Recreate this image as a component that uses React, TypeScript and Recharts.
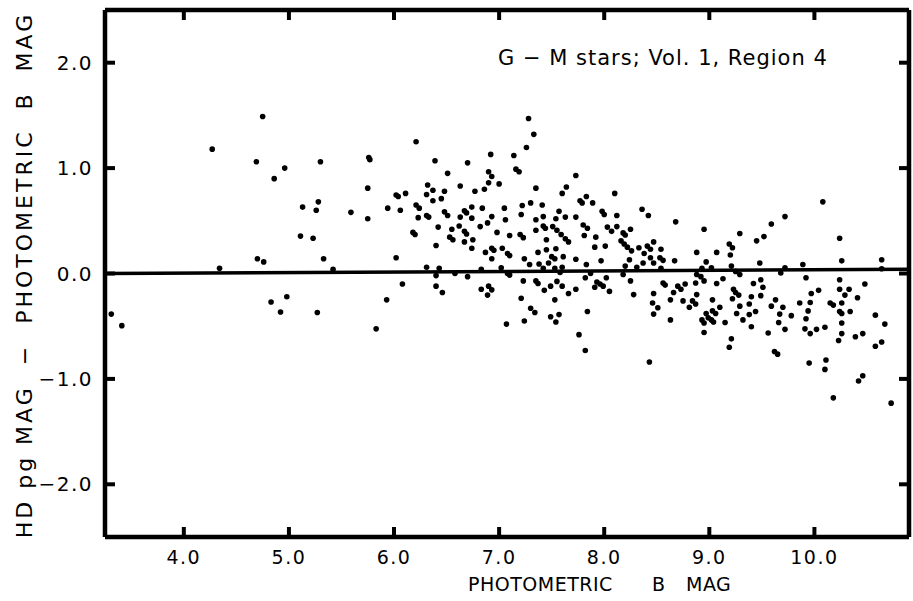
import { ScatterChart, Scatter, XAxis, YAxis, ReferenceLine } from 'recharts';

// photometric B magnitude of each star
const photometricB = [
  3.31, 3.41, 4.27, 4.34, 4.69, 4.75, 4.70, 4.76, 4.83, 4.86, 4.96, 4.98, 4.92, 5.13, 5.11, 5.23, 5.26, 5.28, 5.30, 5.27, 5.33, 5.42,
  5.76, 5.77, 6.21, 5.75, 5.59, 5.75, 5.94, 6.02, 6.04, 6.11, 6.06, 6.02, 6.39, 6.70, 6.51, 6.92, 6.90, 6.93, 6.90, 7.00, 6.86, 6.77,
  6.63, 6.32, 6.37, 6.31, 6.48, 6.45, 6.37, 6.21, 6.24, 6.23, 6.31, 6.33, 6.48, 6.51, 6.42, 6.18, 6.20, 6.67, 6.69, 6.74, 6.63, 6.74,
  6.84, 6.93, 6.89, 6.82, 7.05, 7.06, 6.98, 6.62, 6.55, 6.67, 6.69, 6.53, 6.56, 6.75, 6.67, 6.74, 6.40, 6.87, 6.93, 6.95, 7.03, 6.93,
  7.08, 7.10, 7.10,
  6.31, 6.43, 6.40, 6.58, 6.70, 6.83, 7.02, 7.08, 7.10, 6.08, 6.40, 6.46, 6.83, 6.90, 6.93, 6.89, 5.93, 5.83, 7.07,
  7.28, 7.33, 7.26, 7.14, 7.16, 7.19, 7.73, 7.35, 7.64, 7.60, 8.10, 7.83, 7.77, 7.79, 7.89, 7.30, 7.22, 7.41, 7.21, 7.57, 7.42, 7.35,
  7.54, 7.63, 7.73, 7.98, 8.00, 8.12, 8.36, 8.42, 8.68, 8.95, 7.51, 7.55, 7.59, 7.63, 7.66, 7.35, 7.42, 7.44, 7.20, 7.23, 7.45, 7.80,
  7.84, 7.81, 7.92, 8.03, 8.07, 8.12, 8.18, 8.20, 8.25, 8.16, 8.19, 8.22, 8.26, 7.91, 8.01, 8.33, 8.41, 8.44, 8.47, 8.54, 8.38, 8.44,
  8.53, 8.56, 8.88, 7.24, 7.37, 7.45, 7.54, 7.50, 7.53, 7.61, 7.73, 7.97, 8.24, 8.67, 8.97,
  7.29, 7.38, 7.47, 7.53, 7.58, 7.60, 7.83, 8.47, 8.37, 7.42, 7.23, 7.35, 7.37, 7.43, 7.49, 7.55, 7.60, 7.66, 7.73, 7.82, 7.87, 7.91,
  7.93, 7.96, 7.99, 8.02, 8.05, 7.21, 7.30, 7.34, 7.53, 7.49, 7.57, 7.54, 7.24, 7.84, 7.76, 7.82, 8.20, 8.18, 8.31, 8.25, 8.28, 8.47,
  8.46, 8.51, 8.47, 8.43, 8.54, 8.56, 8.58, 8.63, 8.63, 8.66, 8.70, 8.73, 8.77, 8.75, 8.81, 8.84, 8.87, 8.88, 8.87, 8.92, 8.95, 8.88,
  8.93, 8.97, 8.93, 8.95, 8.95, 8.99,
  9.29, 9.19, 9.22, 9.07, 9.20, 9.02, 9.21, 9.25, 9.29, 9.48, 9.45, 9.52, 9.59, 9.72, 10.08, 10.24, 10.26, 10.64, 9.89, 9.72, 9.68,
  10.64, 9.13, 9.07, 9.23, 9.42, 9.49, 9.51, 9.92, 10.24, 10.24, 10.33, 10.48, 10.04,
  9.25, 9.28, 9.22, 9.03, 9.10, 9.03, 9.06, 9.02, 9.04, 9.15, 9.21, 9.19, 9.40, 9.49, 9.29, 9.38, 9.26, 9.38, 9.44, 9.32, 9.40, 9.56,
  9.59, 9.63, 9.70, 9.67, 9.78, 9.66, 9.72, 9.62, 9.65, 9.86, 9.97, 9.96, 9.94, 9.92, 9.91, 9.96, 10.02, 10.10, 9.95, 10.11, 10.10,
  10.18, 10.29, 10.41, 10.15, 10.18, 10.26, 10.24, 10.26, 10.34, 10.26, 10.26, 10.23, 10.39, 10.46, 10.58, 10.67, 10.58, 10.64, 10.42,
  10.46, 10.73,
];

// HD pg mag minus photometric B mag, same order
const hdMinusB = [
  -0.385, -0.495, 1.18, 0.05, 1.06, 1.49, 0.14, 0.11, -0.27, 0.90, 1.00, -0.22, -0.365, 0.63, 0.355, 0.335, 0.60, 0.68, 1.06, -0.37, 0.14, 0.04,
  1.10, 1.08, 1.25, 0.81, 0.58, 0.52, 0.62, 0.745, 0.73, 0.76, 0.60, 0.15, 1.07, 1.05, 0.95, 1.13, 0.965, 0.92, 0.86, 0.85, 0.80, 0.78,
  0.83, 0.84, 0.79, 0.75, 0.78, 0.71, 0.69, 0.65, 0.62, 0.53, 0.55, 0.535, 0.585, 0.55, 0.44, 0.39, 0.37, 0.595, 0.575, 0.63, 0.535, 0.525,
  0.62, 0.54, 0.48, 0.445, 0.62, 0.51, 0.39, 0.45, 0.42, 0.40, 0.375, 0.345, 0.32, 0.32, 0.30, 0.24, 0.265, 0.20, 0.24, 0.22, 0.24, 0.14,
  0.19, 0.17, 0.36,
  0.06, 0.05, -0.02, 0.0, -0.03, 0.04, 0.055, 0.0, -0.015, -0.10, -0.12, -0.18, -0.15, -0.12, -0.155, -0.205, -0.25, -0.525, -0.48,
  1.47, 1.32, 1.195, 1.12, 0.99, 0.965, 0.93, 0.81, 0.82, 0.76, 0.76, 0.73, 0.69, 0.67, 0.67, 0.67, 0.645, 0.65, 0.56, 0.59, 0.54, 0.51,
  0.52, 0.535, 0.535, 0.59, 0.56, 0.55, 0.61, 0.55, 0.49, 0.42, 0.445, 0.41, 0.37, 0.33, 0.30, 0.41, 0.45, 0.43, 0.37, 0.34, 0.32, 0.46,
  0.43, 0.36, 0.345, 0.44, 0.40, 0.445, 0.385, 0.365, 0.42, 0.31, 0.28, 0.25, 0.215, 0.25, 0.26, 0.245, 0.26, 0.23, 0.30, 0.23, 0.19, 0.15,
  0.15, 0.125, 0.20, 0.14, 0.20, 0.225, 0.235, 0.16, 0.14, 0.16, 0.135, 0.12, 0.13, 0.12, 0.11,
  0.085, 0.09, 0.10, 0.05, 0.01, 0.06, 0.085, 0.10, 0.10, 0.05, -0.07, -0.07, -0.095, -0.16, -0.12, -0.075, -0.12, -0.19, -0.15, -0.04, 0.0, -0.13,
  -0.08, -0.10, -0.12, -0.04, -0.17, -0.235, -0.33, -0.37, -0.25, -0.41, -0.39, -0.46, -0.45, -0.36, -0.58, -0.73, 0.07, -0.01, 0.06, -0.07, -0.20, -0.19,
  -0.28, -0.325, -0.385, -0.84, 0.05, -0.09, -0.11, -0.25, -0.44, -0.18, -0.12, -0.15, -0.10, -0.26, -0.32, -0.26, -0.29, -0.20, -0.09, -0.03, -0.07, -0.01,
  0.05, -0.38, -0.44, -0.47, -0.56, -0.42,
  0.38, 0.28, 0.245, 0.20, 0.175, 0.055, 0.07, 0.02, -0.01, 0.10, 0.31, 0.35, 0.47, 0.54, 0.68, 0.335, 0.12, 0.13, 0.085, 0.055, 0.005,
  0.045, -0.05, -0.095, -0.15, -0.095, -0.06, -0.13, -0.04, -0.06, -0.15, -0.15, -0.10, -0.16,
  -0.18, -0.205, -0.24, -0.25, -0.32, -0.355, -0.38, -0.44, -0.46, -0.465, -0.62, -0.70, -0.22, -0.21, -0.31, -0.29, -0.38, -0.39, -0.36, -0.44, -0.505, -0.565,
  -0.31, -0.25, -0.32, -0.385, -0.40, -0.465, -0.53, -0.74, -0.765, -0.28, -0.19, -0.275, -0.355, -0.43, -0.525, -0.57, -0.53, -0.51, -0.85, -0.82, -0.91,
  -1.18, -0.205, -0.23, -0.28, -0.30, -0.28, -0.36, -0.38, -0.36, -0.47, -0.57, -0.635, -0.60, -0.57, -0.395, -0.48, -0.69, -0.65, -1.02,
  -0.97, -1.23,
];

const xTicks = [4, 5, 6, 7, 8, 9, 10];
const yTicks = [-2, -1, 0, 1, 2];
const xDomain = [3.25, 10.9];
const yDomain = [-2.5, 2.5];
// zero line as drawn on the plate (slightly tilted)
const zeroLine = [
  { x: 3.25, y: 0 },
  { x: 10.9, y: 0.04 },
];

const points = photometricB.map((x, i) => ({ x, y: hdMinusB[i] }));

const FONT = '"DejaVu Sans", sans-serif';
const PLOT_TOP = 10;
const PLOT_BOTTOM = 537;
const PLOT_LEFT = 105;
const PLOT_RIGHT = 909;
const TICK = 10;

const fmt = (v: number) => (v < 0 ? '\u2212' + Math.abs(v).toFixed(1) : v.toFixed(1));

function BottomTick(props: any) {
  const c = props.payload.coordinate;
  return (
    <g>
      <line x1={c} x2={c} y1={PLOT_BOTTOM} y2={PLOT_BOTTOM - TICK} stroke="#000" strokeWidth={4} />
      <text x={c} y={564} textAnchor="middle" fontFamily={FONT} fontSize={19} letterSpacing={1.5} fill="#000">
        {fmt(props.payload.value)}
      </text>
    </g>
  );
}

function TopTick(props: any) {
  const c = props.payload.coordinate;
  return <line x1={c} x2={c} y1={PLOT_TOP} y2={PLOT_TOP + TICK} stroke="#000" strokeWidth={4} />;
}

function LeftTick(props: any) {
  const c = props.payload.coordinate;
  return (
    <g>
      <line x1={PLOT_LEFT} x2={PLOT_LEFT + TICK} y1={c} y2={c} stroke="#000" strokeWidth={4} />
      <text x={93} y={c + 7} textAnchor="end" fontFamily={FONT} fontSize={20} letterSpacing={1.5} fill="#000">
        {fmt(props.payload.value)}
      </text>
    </g>
  );
}

function RightTick(props: any) {
  const c = props.payload.coordinate;
  return <line x1={PLOT_RIGHT} x2={PLOT_RIGHT - TICK} y1={c} y2={c} stroke="#000" strokeWidth={4} />;
}

function XTitle() {
  return (
    <text y={591} fontFamily={FONT} fontSize={19} letterSpacing={0.5} fill="#000">
      <tspan x={468}>PHOTOMETRIC</tspan>
      <tspan x={652}>B</tspan>
      <tspan x={686}>MAG</tspan>
    </text>
  );
}

function YTitle() {
  return (
    <text
      transform="translate(24,275) rotate(-90)"
      textAnchor="middle"
      dominantBaseline="central"
      fontFamily={FONT}
      fontSize={22}
      letterSpacing={3}
      fill="#000"
      style={{ whiteSpace: 'pre' }}
    >
      {'HD pg MAG  \u2212  PHOTOMETRIC  B  MAG'}
    </text>
  );
}

function Note() {
  return (
    <text x={498} y={65} fontFamily={FONT} fontSize={21} letterSpacing={1} fill="#000" style={{ whiteSpace: 'pre' }}>
      {'G \u2212 M stars; Vol. 1, Region 4'}
    </text>
  );
}

const Dot = (p: any) => <circle cx={p.cx} cy={p.cy} r={2.8} fill="#000" />;

export default function App() {
  return (
    <div style={{ position: 'absolute', left: 0, top: 0, background: '#fff' }}>
      <ScatterChart width={913} height={601} margin={{ top: 0, right: 0, bottom: 0, left: 0 }}>
        <XAxis
          xAxisId="b"
          type="number"
          dataKey="x"
          domain={xDomain}
          ticks={xTicks}
          allowDataOverflow
          height={64}
          axisLine={{ stroke: '#000', strokeWidth: 4.5 }}
          tickLine={false}
          tick={<BottomTick />}
          label={<XTitle />}
        />
        <XAxis
          xAxisId="t"
          orientation="top"
          type="number"
          dataKey="x"
          domain={xDomain}
          ticks={xTicks}
          allowDataOverflow
          height={PLOT_TOP}
          axisLine={{ stroke: '#000', strokeWidth: 4.5 }}
          tickLine={false}
          tick={<TopTick />}
          label={<Note />}
        />
        <YAxis
          yAxisId="l"
          type="number"
          dataKey="y"
          domain={yDomain}
          ticks={yTicks}
          allowDataOverflow
          width={PLOT_LEFT}
          axisLine={{ stroke: '#000', strokeWidth: 4.5 }}
          tickLine={false}
          tick={<LeftTick />}
          label={<YTitle />}
        />
        <YAxis
          yAxisId="r"
          orientation="right"
          type="number"
          dataKey="y"
          domain={yDomain}
          ticks={yTicks}
          allowDataOverflow
          width={913 - PLOT_RIGHT}
          axisLine={{ stroke: '#000', strokeWidth: 4.5 }}
          tickLine={false}
          tick={<RightTick />}
        />
        <ReferenceLine xAxisId="b" yAxisId="l" segment={zeroLine} stroke="#000" strokeWidth={3.5} ifOverflow="visible" />
        <Scatter xAxisId="b" yAxisId="l" data={points} shape={Dot} isAnimationActive={false} />
        <Scatter xAxisId="t" yAxisId="r" data={[]} isAnimationActive={false} />
      </ScatterChart>
    </div>
  );
}
